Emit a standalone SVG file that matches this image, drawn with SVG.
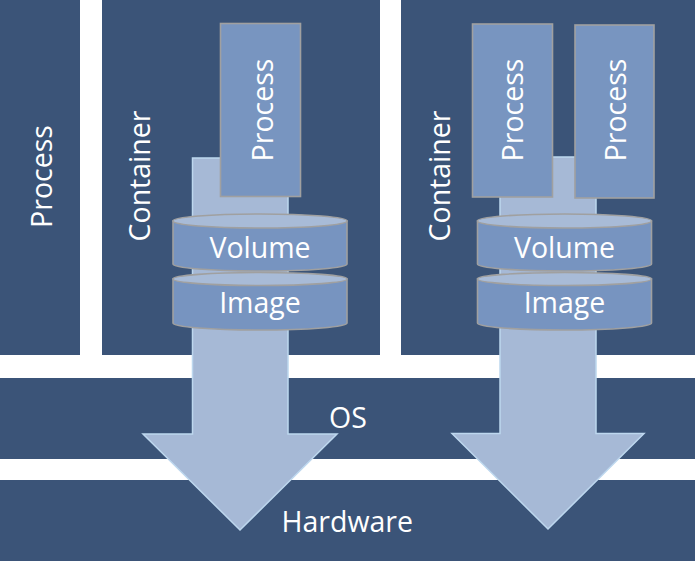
<svg xmlns="http://www.w3.org/2000/svg" width="695" height="561" viewBox="0 0 695 561">
<style>
.panel{fill:#3B5478}
.proc{fill:#7895C0;stroke:#A0A0A0;stroke-width:1.6}
.body{fill:#7794C0;stroke:#A0A0A0;stroke-width:1.6}
.top{fill:#A8BBD7;stroke:#A0A0A0;stroke-width:1.6}
.arrow{fill:#A6B9D6;stroke:#BDD7EE;stroke-width:1.5}
text{font-family:"Open Sans","Liberation Sans",sans-serif;font-size:28.5px;fill:#FFFFFF}
.mid{text-anchor:middle}
</style>
<rect width="695" height="561" fill="#FFFFFF"/>
<g id="hardware">
<rect class="panel" x="0" y="480" width="695" height="81"/>
</g>
<g id="os">
<rect class="panel" x="0" y="378" width="695" height="81"/>
</g>
<g id="process-left">
<rect class="panel" x="0" y="0" width="80" height="355"/>
<text class="mid" transform="translate(51.5,176.5) rotate(-90)">Process</text>
</g>
<g id="container1">
<rect class="panel" x="102" y="0" width="278" height="355"/>
<text class="mid" transform="translate(150,176) rotate(-90)">Container</text>
</g>
<g id="container2">
<rect class="panel" x="401" y="0" width="294" height="355"/>
<text class="mid" transform="translate(450,176) rotate(-90)">Container</text>
</g>
<g id="connectors">
<path class="arrow" d="M192.5,158 L288,158 L288,434 L337,434 L240,530 L143,434 L192.5,434 Z"/>
<path class="arrow" d="M500,157 L596,157 L596,433.5 L644,433.5 L548,529 L452,433.5 L500,433.5 Z"/>
</g>
<g id="process1">
<rect class="proc" x="220.5" y="23.5" width="80" height="173"/>
<text class="mid" transform="translate(272.5,110) rotate(-90)">Process</text>
</g>
<g id="process2a">
<rect class="proc" x="472.5" y="24" width="80" height="173"/>
<text class="mid" transform="translate(523,110) rotate(-90)">Process</text>
</g>
<g id="process2b">
<rect class="proc" x="575" y="25" width="79" height="173"/>
<text class="mid" transform="translate(626,110) rotate(-90)">Process</text>
</g>
<g id="image1">
<path class="body" d="M173,279 L173,323 A87,7 0 0 0 347,323 L347,279 Z"/>
<ellipse class="top" cx="260" cy="279" rx="87" ry="6.5"/>
<text class="mid" x="260" y="313">Image</text>
</g>
<g id="volume1">
<path class="body" d="M173,221 L173,264 A87,7 0 0 0 347,264 L347,221 Z"/>
<ellipse class="top" cx="260" cy="221" rx="87" ry="7"/>
<text class="mid" x="260" y="257.5">Volume</text>
</g>
<g id="image2">
<path class="body" d="M477.5,279 L477.5,323 A87,7 0 0 0 651.5,323 L651.5,279 Z"/>
<ellipse class="top" cx="564.5" cy="279" rx="87" ry="6.5"/>
<text class="mid" x="564.5" y="313">Image</text>
</g>
<g id="volume2">
<path class="body" d="M477.5,221 L477.5,264 A87,7 0 0 0 651.5,264 L651.5,221 Z"/>
<ellipse class="top" cx="564.5" cy="221" rx="87" ry="7"/>
<text class="mid" x="564.5" y="257.5">Volume</text>
</g>
<g id="labels">
<text x="329" y="428">OS</text>
<text x="281.5" y="531.5">Hardware</text>
</g>
</svg>
